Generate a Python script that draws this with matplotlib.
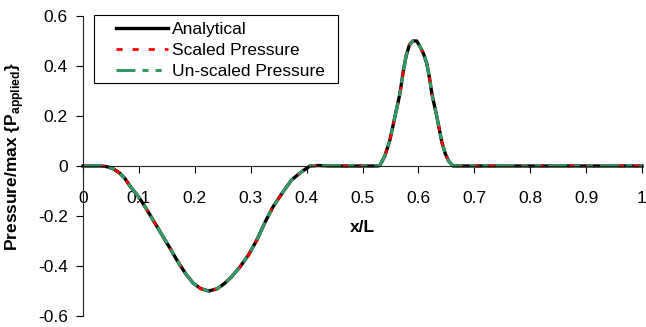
import numpy as np
import matplotlib.pyplot as plt
from matplotlib.patches import Rectangle

plt.rcParams['font.family'] = ['Liberation Sans', 'DejaVu Sans']
plt.rcParams['mathtext.fontset'] = 'custom'
plt.rcParams['mathtext.rm'] = 'Liberation Sans'
plt.rcParams['mathtext.bf'] = 'Liberation Sans:bold'

# dati (x/L, pressione normalizzata)
x_L = [0.000, 0.030, 0.042, 0.055, 0.066, 0.075, 0.084, 0.093, 0.102, 0.111,
       0.120, 0.129, 0.138, 0.147, 0.156, 0.165, 0.174, 0.185, 0.197, 0.210,
       0.225, 0.240, 0.253, 0.265, 0.281, 0.296, 0.311, 0.326, 0.340, 0.358,
       0.373, 0.391, 0.406, 0.420, 0.450,
       0.500, 0.525, 0.531, 0.540, 0.549, 0.558, 0.567, 0.573, 0.578, 0.584,
       0.590, 0.597, 0.603, 0.609, 0.615, 0.620, 0.624, 0.633, 0.642, 0.648,
       0.654, 0.662, 0.700, 0.800, 0.900, 1.000]
p_analytical = [0.000, 0.000, -0.002, -0.012, -0.029, -0.050, -0.080, -0.105, -0.132, -0.163,
                -0.196, -0.230, -0.263, -0.297, -0.330, -0.365, -0.398, -0.435, -0.468, -0.490,
                -0.500, -0.491, -0.470, -0.445, -0.403, -0.356, -0.296, -0.223, -0.163, -0.103,
                -0.056, -0.023, 0.000, 0.002, 0.000,
                0.000, 0.000, 0.002, 0.040, 0.104, 0.197, 0.290, 0.380, 0.440, 0.485,
                0.500, 0.500, 0.477, 0.450, 0.410, 0.350, 0.290, 0.197, 0.095, 0.050,
                0.020, 0.000, 0.000, 0.000, 0.000, 0.000]
# le due soluzioni numeriche coincidono con quella analitica a questa risoluzione
p_scaled = list(p_analytical)
p_unscaled = list(p_analytical)

x_ticks = [0, 0.1, 0.2, 0.3, 0.4, 0.5, 0.6, 0.7, 0.8, 0.9, 1]
x_tick_labels = ['0', '0.1', '0.2', '0.3', '0.4', '0.5', '0.6', '0.7', '0.8', '0.9', '1']
y_ticks = [-0.6, -0.4, -0.2, 0, 0.2, 0.4, 0.6]
y_tick_labels = ['-0.6', '-0.4', '-0.2', '0', '0.2', '0.4', '0.6']

FS = 12.5

fig = plt.figure(figsize=(6.46, 3.27), dpi=100)
ax = fig.add_axes([0.1285, 0.0336, 0.8653, 0.9174])

ax.plot(x_L, p_analytical, color='black', lw=2.4, label='Analytical',
        solid_joinstyle='round', clip_on=False)
ax.plot(x_L, p_scaled, color='#ff0000', lw=2.0, ls=(0, (2.2, 3.6)),
        label='Scaled Pressure', clip_on=False)
ax.plot(x_L, p_unscaled, color='#339966', lw=2.2, ls=(0, (6.2, 2.3, 2.0, 2.3, 2.0, 2.3)),
        label='Un-scaled Pressure', clip_on=False)

ax.set_xlim(0, 1)
ax.set_ylim(-0.6, 0.6)
ax.spines['top'].set_visible(False)
ax.spines['right'].set_visible(False)
ax.spines['bottom'].set_position(('data', 0))
for s in ['left', 'bottom']:
    ax.spines[s].set_linewidth(0.8)
    ax.spines[s].set_color('#202020')

ax.set_xticks(x_ticks)
ax.set_xticklabels(x_tick_labels)
ax.set_yticks(y_ticks)
ax.set_yticklabels(y_tick_labels)
ax.tick_params(axis='x', direction='out', length=5, width=0.8, pad=13, labelsize=FS)
ax.tick_params(axis='y', direction='out', length=5, width=0.8, pad=6, labelsize=FS)

ax.set_xlabel('x/L', fontsize=FS, fontweight='bold')
ax.xaxis.set_label_coords(0.5, 0.32)
ax.set_ylabel(r'Pressure/max {P$_{\mathbf{applied}}$}', fontsize=FS, fontweight='bold')
ax.yaxis.set_label_coords(-0.102, 0.53)

# riquadro della legenda disegnato a parte
box = Rectangle((0.0197, 0.7767), 0.4365, 0.2267, transform=ax.transAxes,
                facecolor='white', edgecolor='black', lw=0.8, clip_on=False, zorder=4)
ax.add_patch(box)
leg = ax.legend(loc='upper left', bbox_to_anchor=(0.059, 0.98), fontsize=FS,
                frameon=False, handlelength=3.0, handletextpad=0.25,
                borderpad=0, borderaxespad=0, labelspacing=0.33)
leg.set_zorder(5)

fig.savefig('out.png', dpi=100)
